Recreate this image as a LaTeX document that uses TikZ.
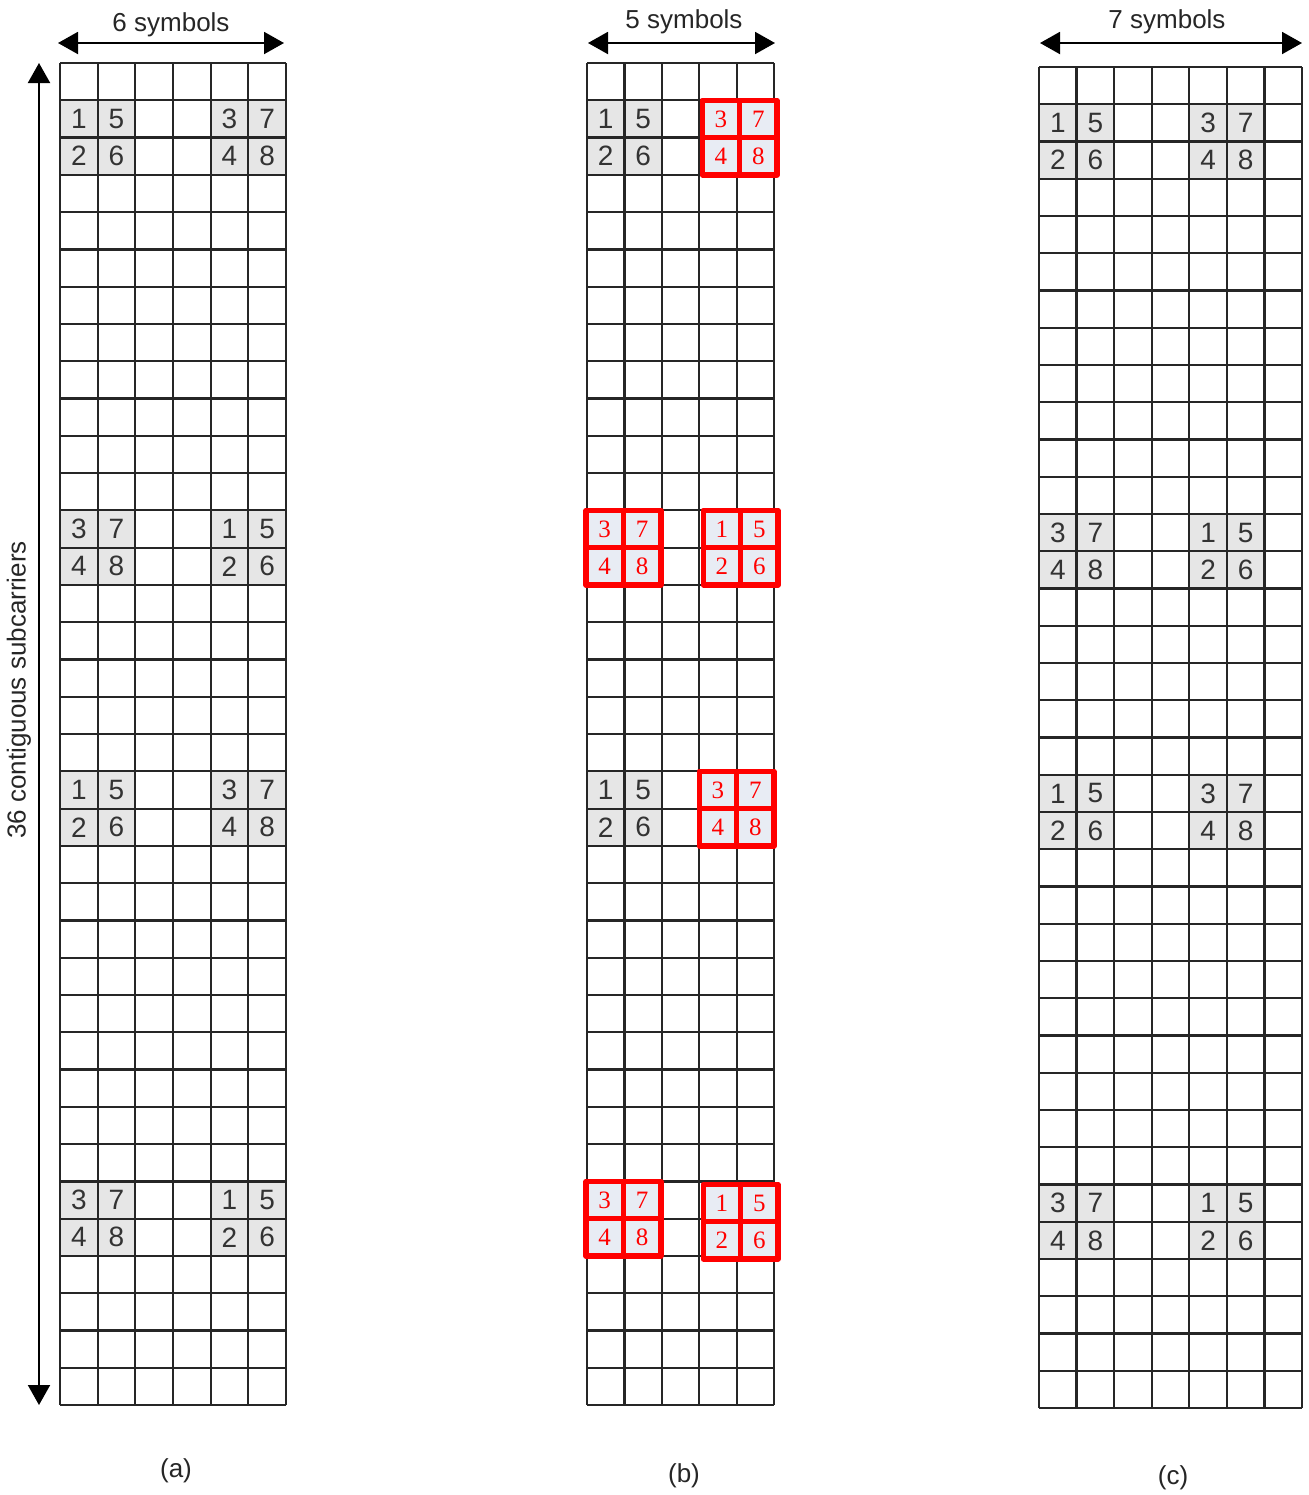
\documentclass[tikz,border=0pt]{standalone}
\usepackage{fontspec}
\setmainfont{Liberation Sans}
\newfontfamily\serifdig{Liberation Serif}
\usetikzlibrary{arrows.meta}
\definecolor{cellgray}{HTML}{E6E6E6}
\definecolor{cellblue}{HTML}{E8ECF4}
\definecolor{boxred}{HTML}{FF0000}
\tikzset{
  gridline/.style={line width=1.1pt, black!85},
  graycell/.style={fill=cellgray},
  digit/.style={font=\fontsize{14}{16}\selectfont, text=black!80, inner sep=0pt},
  reddigit/.style={font=\serifdig\fontsize{12.5}{14}\selectfont, text=boxred, inner sep=0pt},
  redcell/.style={draw=boxred, line width=2.7pt, fill=cellblue, line join=round},
  dimarrow/.style={line width=1pt, {Triangle[length=10pt,width=11pt]}-{Triangle[length=10pt,width=11pt]}},
  lbl/.style={font=\fontsize{13}{15}\selectfont, text=black!85, inner sep=0pt},
}
\newcommand\gblk[7]{%
  \fill[graycell] (#1,#2) rectangle ({#1+2},{#2+2});
  \node[digit] (#7-#1-#2-a) at ({#1+0.5},{#2+0.5}) {#3};
  \node[digit] (#7-#1-#2-b) at ({#1+1.5},{#2+0.5}) {#4};
  \node[digit] (#7-#1-#2-c) at ({#1+0.5},{#2+1.5}) {#5};
  \node[digit] (#7-#1-#2-d) at ({#1+1.5},{#2+1.5}) {#6};
}
\newcommand\rblk[7]{%
  \foreach \dx in {0,1}{\foreach \dy in {0,1}{
    \draw[redcell] ({#1+\dx},{#2+\dy}) rectangle ({#1+\dx+1},{#2+\dy+1});}}
  \node[reddigit] (#7-#1-#2-a) at ({#1+0.5},{#2+0.5}) {#3};
  \node[reddigit] (#7-#1-#2-b) at ({#1+1.5},{#2+0.5}) {#4};
  \node[reddigit] (#7-#1-#2-c) at ({#1+0.5},{#2+1.5}) {#5};
  \node[reddigit] (#7-#1-#2-d) at ({#1+1.5},{#2+1.5}) {#6};
}
\newcommand\gridlines[1]{%
  \foreach \i in {0,...,#1} \draw[gridline] (\i,0) -- (\i,36);
  \foreach \j in {0,...,36} \draw[gridline] (0,\j) -- (#1,\j);
}
\begin{document}
\begin{tikzpicture}[x=0.5pt,y=-0.5pt]
\useasboundingbox[fill=white] (0,0) rectangle (1309,1495);

% ---------- grid (a) ----------
\begin{scope}[shift={(30pt,-31.5pt)}, x=18.835pt, y=-18.64pt]
  \gblk{0}{1}{1}{5}{2}{6}{ga}
  \gblk{4}{1}{3}{7}{4}{8}{ga}
  \gblk{0}{12}{3}{7}{4}{8}{ga}
  \gblk{4}{12}{1}{5}{2}{6}{ga}
  \gblk{0}{19}{1}{5}{2}{6}{ga}
  \gblk{4}{19}{3}{7}{4}{8}{ga}
  \gblk{0}{30}{3}{7}{4}{8}{ga}
  \gblk{4}{30}{1}{5}{2}{6}{ga}
  \gridlines{6}
\end{scope}

% ---------- grid (b) ----------
\begin{scope}[shift={(293.5pt,-31.5pt)}, x=18.7pt, y=-18.64pt]
  \gblk{0}{1}{1}{5}{2}{6}{gb}
  \gblk{0}{19}{1}{5}{2}{6}{gb}
  \gridlines{5}
  \begin{scope}[xshift=1.5pt]\rblk{3}{1}{3}{7}{4}{8}{gb}\end{scope}
  \begin{scope}[xshift=-0.5pt]\rblk{0}{12}{3}{7}{4}{8}{gb}\end{scope}
  \begin{scope}[xshift=2pt]\rblk{3}{12}{1}{5}{2}{6}{gb}\end{scope}
  \rblk{3}{19}{3}{7}{4}{8}{gb}
  \begin{scope}[xshift=-0.5pt]\rblk{0}{30}{3}{7}{4}{8}{gb}\end{scope}
  \begin{scope}[xshift=2pt,yshift=-1.5pt]\rblk{3}{30}{1}{5}{2}{6}{gb}\end{scope}
\end{scope}

% ---------- grid (c) ----------
\begin{scope}[shift={(519.5pt,-33.5pt)}, x=18.785pt, y=-18.625pt]
  \gblk{0}{1}{1}{5}{2}{6}{gc}
  \gblk{4}{1}{3}{7}{4}{8}{gc}
  \gblk{0}{12}{3}{7}{4}{8}{gc}
  \gblk{4}{12}{1}{5}{2}{6}{gc}
  \gblk{0}{19}{1}{5}{2}{6}{gc}
  \gblk{4}{19}{3}{7}{4}{8}{gc}
  \gblk{0}{30}{3}{7}{4}{8}{gc}
  \gblk{4}{30}{1}{5}{2}{6}{gc}
  \gridlines{7}
\end{scope}

% ---------- dimension arrows ----------
\coordinate (aL) at (58,43);
\coordinate (aR) at (284,43);
\coordinate (bL) at (588,43);
\coordinate (bR) at (775,43);
\coordinate (cL) at (1040,43);
\coordinate (cR) at (1302,43);
\coordinate (vT) at (39,63);
\coordinate (vB) at (39,1405);
\draw[dimarrow] (aL) -- (aR);
\draw[dimarrow] (bL) -- (bR);
\draw[dimarrow] (cL) -- (cR);
\draw[dimarrow] (vT) -- (vB);

\node[lbl] (la) at (171,25) {6 symbols};
\node[lbl] (lb) at (684,22) {5 symbols};
\node[lbl] (lc) at (1167,22) {7 symbols};
\node[lbl, rotate=90] (lv) at (19,690) {36 contiguous subcarriers};

\node[lbl] (capa) at (176,1471) {(a)};
\node[lbl] (capb) at (684,1476) {(b)};
\node[lbl] (capc) at (1173,1478) {(c)};
\end{tikzpicture}
\end{document}
